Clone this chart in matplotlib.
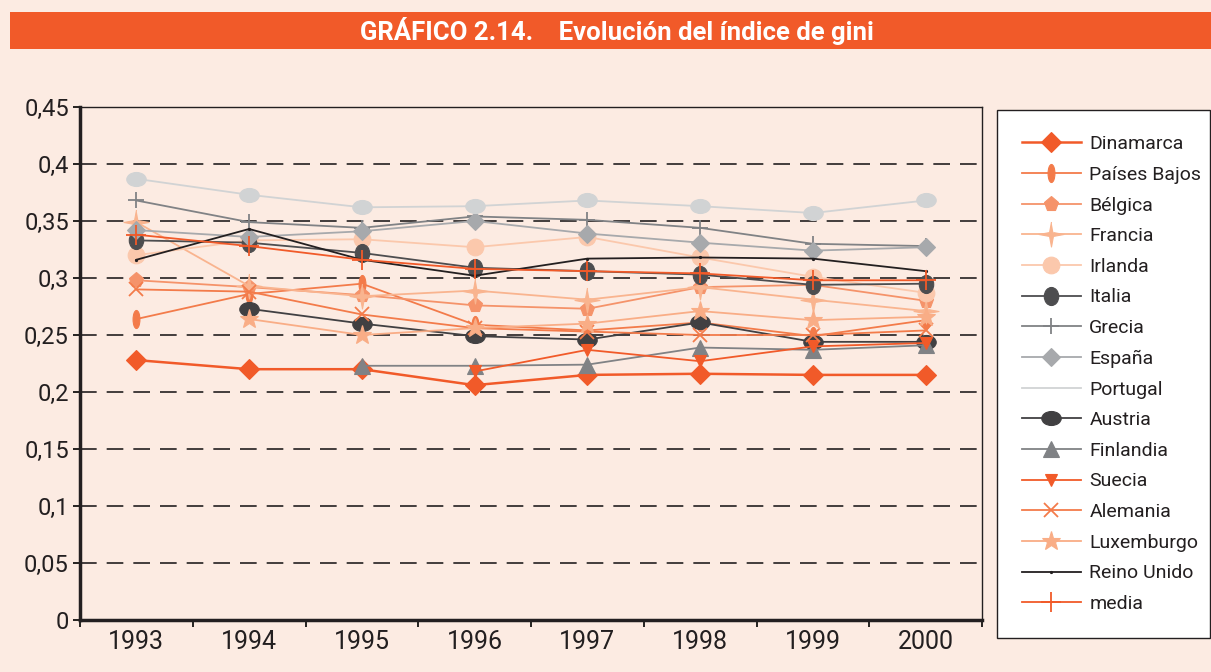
import numpy as np
import matplotlib
matplotlib.use("Agg")
import matplotlib.pyplot as plt
from matplotlib.path import Path
from matplotlib.lines import Line2D

plt.rcParams["font.family"] = ["Roboto", "DejaVu Sans"]

# ---------------------------------------------------------------------------
# Data
# ---------------------------------------------------------------------------

years = ["1993", "1994", "1995", "1996", "1997", "1998", "1999", "2000"]
nan = np.nan

dinamarca    = [0.228, 0.220, 0.220, 0.206, 0.215, 0.216, 0.215, 0.215]
paises_bajos = [0.264, 0.286, 0.295, 0.259, 0.254, 0.261, 0.249, 0.263]
belgica      = [0.298, 0.292, 0.285, 0.276, 0.273, 0.292, 0.294, 0.280]
francia      = [0.349, 0.293, 0.284, 0.289, 0.281, 0.292, 0.281, 0.271]
irlanda      = [0.320, 0.333, 0.334, 0.327, 0.336, 0.318, 0.301, 0.287]
italia       = [0.333, 0.331, 0.322, 0.309, 0.306, 0.303, 0.294, 0.295]
grecia       = [0.368, 0.349, 0.344, 0.354, 0.351, 0.344, 0.330, 0.328]
espana       = [0.342, 0.336, 0.341, 0.350, 0.339, 0.331, 0.324, 0.327]
portugal     = [0.387, 0.373, 0.362, 0.363, 0.368, 0.363, 0.357, 0.368]
austria      = [nan, 0.273, 0.260, 0.249, 0.246, 0.261, 0.244, 0.244]
finlandia    = [nan, nan, 0.223, 0.223, 0.224, 0.239, 0.237, 0.241]
suecia       = [nan, nan, nan, 0.218, 0.237, 0.227, 0.240, 0.243]
alemania     = [0.290, 0.288, 0.268, 0.256, 0.253, 0.250, 0.250, 0.254]
luxemburgo   = [nan, 0.264, 0.250, 0.256, 0.260, 0.271, 0.263, 0.266]
reino_unido  = [0.316, 0.343, 0.316, 0.302, 0.317, 0.318, 0.317, 0.306]
media        = [0.338, 0.328, 0.316, 0.308, 0.306, 0.304, 0.298, 0.298]

# ---------------------------------------------------------------------------
# Custom marker shapes
# ---------------------------------------------------------------------------

circ = Path.unit_circle()
ellipse_tall = Path(circ.vertices * [0.38, 1.0], circ.codes)
ellipse_mid = Path(circ.vertices * [0.8, 1.0], circ.codes)
ellipse_wide = Path(circ.vertices * [1.0, 0.72], circ.codes)

ang = np.linspace(0, 2 * np.pi, 9)[:-1] + np.pi / 2
rad = np.array([1.0, 0.22] * 4)
star4 = Path(np.column_stack([rad * np.cos(ang), rad * np.sin(ang)]))

ORANGE = "#F15A29"
BG = "#FCEBE2"

series = [
    ("Dinamarca", dinamarca, ORANGE, "D", 10, 1.8),
    ("Países Bajos", paises_bajos, "#F37B4A", ellipse_tall, 13, 1.3),
    ("Bélgica", belgica, "#F5936A", "p", 11, 1.3),
    ("Francia", francia, "#F9B48F", star4, 18, 1.3),
    ("Irlanda", irlanda, "#FBC8AC", "o", 12, 1.3),
    ("Italia", italia, "#4D4D4F", ellipse_mid, 13, 1.3),
    ("Grecia", grecia, "#808285", "+", 12, 1.3),
    ("España", espana, "#A7A9AC", "D", 9, 1.3),
    ("Portugal", portugal, "#D1D3D4", ellipse_wide, 14, 1.3),
    ("Austria", austria, "#414042", ellipse_wide, 14, 1.3),
    ("Finlandia", finlandia, "#808285", "^", 12, 1.3),
    ("Suecia", suecia, ORANGE, "v", 9, 1.3),
    ("Alemania", alemania, "#F37B4A", "x", 10, 1.3),
    ("Luxemburgo", luxemburgo, "#F9AD86", "*", 14, 1.3),
    ("Reino Unido", reino_unido, "#231F20", ".", 3, 1.3),
    ("media", media, ORANGE, "+", 14, 1.3),
]

# ---------------------------------------------------------------------------
# Figure
# ---------------------------------------------------------------------------

fig = plt.figure(figsize=(12.11, 6.72), dpi=100)
fig.patch.set_facecolor(BG)

# title banner
fig.patches.append(plt.Rectangle((10 / 1211, 1 - 49 / 672), 1.0, 37 / 672,
                                 transform=fig.transFigure, facecolor=ORANGE,
                                 edgecolor="none", zorder=0))
fig.text(617 / 1211, 1 - 31 / 672, "GRÁFICO 2.14.    Evolución del índice de gini",
         ha="center", va="center", color="white", fontsize=18.5, fontweight="bold")

ax = fig.add_axes([80 / 1211, 1 - 620 / 672, 902 / 1211, 513 / 672])
ax.set_facecolor(BG)

x = np.arange(len(years))
handles = []
for name, vals, color, marker, ms, lw in series:
    h, = ax.plot(x, vals, color=color, marker=marker, markersize=ms, linewidth=lw,
                 markeredgewidth=1.3 if marker in ("+", "x") else 0.8,
                 markeredgecolor=color, label=name)
    if name == "Portugal":
        # legend shows Portugal as a bare line
        h = Line2D([], [], color=color, linewidth=lw, label=name)
    handles.append(h)

ax.set_xlim(-0.5, len(years) - 0.5)
ax.set_ylim(0, 0.45)
ax.set_yticks(np.arange(0, 0.451, 0.05))
ax.set_yticklabels(["0", "0,05", "0,1", "0,15", "0,2", "0,25", "0,3", "0,35", "0,4", "0,45"],
                   fontsize=17, color="#231F20")
ax.set_xticks(x)
ax.set_xticklabels(years, fontsize=18, color="#231F20")
ax.set_xticks(np.arange(-0.5, len(years)), minor=True)
ax.tick_params(axis="x", which="major", length=0, pad=7)
ax.tick_params(axis="x", which="minor", length=5, width=1.2, direction="out")
ax.tick_params(axis="y", length=5, width=1.2, direction="out", pad=3)

for v in np.arange(0.05, 0.41, 0.05):
    ax.axhline(v, color="#231F20", linewidth=1.2, linestyle=(0, (10, 6)), zorder=0.5)

ax.spines["left"].set_linewidth(2.5)
ax.spines["bottom"].set_linewidth(2.5)
ax.spines["top"].set_linewidth(1.0)
ax.spines["right"].set_linewidth(1.0)
for s in ax.spines.values():
    s.set_color("#231F20")

leg = fig.legend(handles=handles, loc="upper left",
                 bbox_to_anchor=(997 / 1211, 1 - 110 / 672, 213 / 1211, 0),
                 mode="expand", fontsize=14, frameon=True, fancybox=False,
                 edgecolor="#231F20", facecolor="white", framealpha=1,
                 borderaxespad=0, borderpad=1.3, labelspacing=0.65,
                 handlelength=3.0, handletextpad=0.45, labelcolor="#231F20")
leg.get_frame().set_linewidth(1.0)

fig.savefig("out.png", dpi=100, facecolor=BG)
